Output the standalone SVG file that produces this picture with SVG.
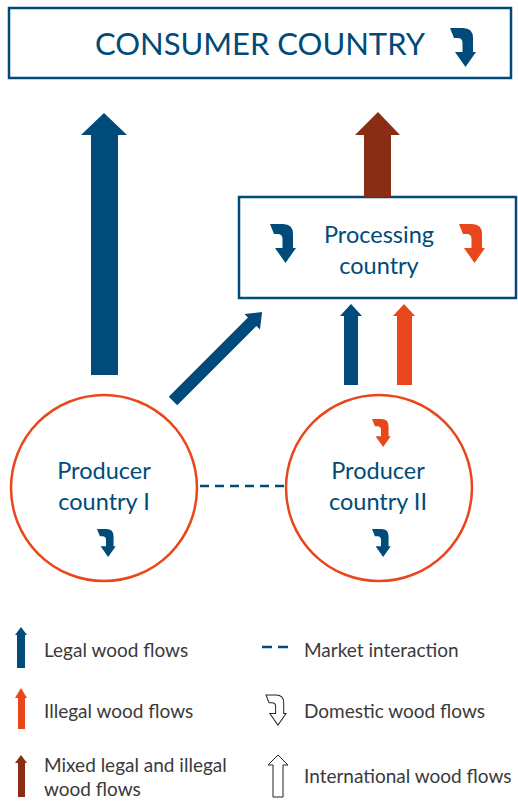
<svg xmlns="http://www.w3.org/2000/svg" width="518" height="801" viewBox="0 0 518 801">
<defs>
<style>
.box{fill:#fff;stroke:#004b7a;stroke-width:2.5}
.circ{fill:#fff;stroke:#e8471c;stroke-width:2.5}
.blue{fill:#004b7a}
.orange{fill:#e8471c}
.brown{fill:#8a2d15}
.t{font-family:Lato,"Open Sans",sans-serif;fill:#004b7a;text-anchor:middle}
.lg{font-family:Lato,"Open Sans",sans-serif;fill:#3a3a3a;font-size:19px}
</style>
<path id="bent" d="M0,0 H13 Q23,0 23,10 V24 H26 L15.5,39 L5,24 H12.5 V15 Q12.5,10 7.5,10 H4 Z"/>
</defs>
<rect width="518" height="801" fill="#fff"/>

<g id="consumer">
<rect class="box" x="9" y="8" width="502" height="70"/>
<text class="t" x="260" y="55" font-size="31">CONSUMER COUNTRY</text>
<use href="#bent" class="blue" transform="translate(450,28)"/>
</g>

<g id="processing">
<rect class="box" x="239" y="197" width="277" height="101"/>
<text class="t" x="379" y="243" font-size="23.5">Processing</text>
<text class="t" x="379" y="274" font-size="23.5">country</text>
<use href="#bent" class="blue" transform="translate(270,224)"/>
<use href="#bent" class="orange" transform="translate(459,224)"/>
</g>

<g id="producer1">
<circle class="circ" cx="104" cy="488" r="93"/>
<text class="t" x="104" y="479" font-size="23.5">Producer</text>
<text class="t" x="104" y="510" font-size="23.5">country I</text>
<use href="#bent" class="blue" transform="translate(97,529) scale(0.72)"/>
</g>

<g id="producer2">
<circle class="circ" cx="379" cy="488" r="93"/>
<text class="t" x="378" y="479" font-size="23.5">Producer</text>
<text class="t" x="378" y="510" font-size="23.5">country II</text>
<use href="#bent" class="orange" transform="translate(372,419) scale(0.72)"/>
<use href="#bent" class="blue" transform="translate(372,529) scale(0.72)"/>
</g>

<g id="connectors">
<polygon class="blue" points="104,113 127,135 118,135 118,375 91,375 91,135 81,135"/>
<polygon class="brown" points="378,112 400,135 391,135 391,197 364,197 364,135 355,135"/>
<polygon class="blue" points="351,304 362,316 358,316 358,385 344,385 344,316 340,316"/>
<polygon class="orange" points="404,304 415,316 412,316 412,385 397,385 397,316 393,316"/>
<polygon class="blue" transform="translate(173,401) rotate(45)" points="0,-126 11,-112 6,-112 6,0 -6,0 -6,-112 -11,-112"/>
<line x1="200" y1="486" x2="286" y2="486" stroke="#004b7a" stroke-width="2.5" stroke-dasharray="9,6"/>
</g>

<g id="legend">
<polygon class="blue" points="21,627 27,635 25,635 25,668 17,668 17,635 15,635"/>
<text class="lg" x="44" y="657">Legal wood flows</text>
<polygon class="orange" points="21,688 27,698 25,698 25,729 18,729 18,698 15,698"/>
<text class="lg" x="44" y="718">Illegal wood flows</text>
<polygon class="brown" points="21,755 27,763 25,763 25,797 18,797 18,763 15,763"/>
<text class="lg" x="44" y="772">Mixed legal and illegal</text>
<text class="lg" x="44" y="796">wood flows</text>
<line x1="262" y1="647" x2="289" y2="647" stroke="#004b7a" stroke-width="2.5" stroke-dasharray="10,6"/>
<text class="lg" x="304" y="657">Market interaction</text>
<use href="#bent" fill="#fff" stroke="#222" stroke-width="1.3" transform="translate(266,695) scale(0.77)"/>
<text class="lg" x="304" y="718">Domestic wood flows</text>
<polygon fill="#fff" stroke="#222" stroke-width="1" points="278,755 288,765 283,765 283,797 273,797 273,765 268,765"/>
<text class="lg" x="304" y="783">International wood flows</text>
</g>
</svg>
